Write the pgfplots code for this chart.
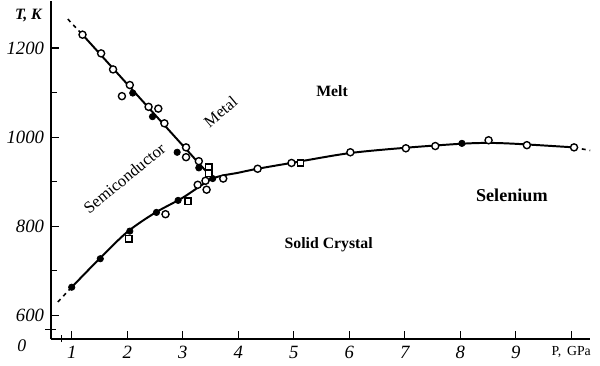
\documentclass[border=0pt]{standalone}
\usepackage{fontspec}
\setmainfont{Liberation Serif}
\usepackage{pgfplots}
\pgfplotsset{compat=1.18}
\begin{document}
\begin{tikzpicture}
\begin{axis}[
  scale only axis, width=273.5pt, height=171.5pt,
  xmin=0.627, xmax=10.34, ymin=546, ymax=1305,
  axis x line*=bottom, axis y line*=left,
  axis line style={black, line width=0.9pt},
  clip=false,
  tick align=inside,
  major tick length=4pt, minor tick length=3pt,
  tick style={black, line width=0.6pt},
  xtick={1,2,3,4,5,6,7,8,9,10},
  xticklabels={\itshape 1,\itshape 2,\itshape 3,\itshape 4,\itshape 5,\itshape 6,\itshape 7,\itshape 8,\itshape 9,{\upshape\fontsize{7}{8}\selectfont P,\, GPa}},
  ytick={600,800,1000,1200},
  minor ytick={700,900,1100},
  yticklabels={\itshape 600,\itshape 800,\itshape 1000,\itshape 1200},
  tick label style={font=\fontsize{9.5}{10}\selectfont},
]
% thicker y axis line
\draw[line width=1.3pt] (axis cs:0.627,1305) -- (axis cs:0.627,570);
% axis break marks at the corner
\draw[line width=0.8pt] (axis cs:0.52,568) -- (axis cs:0.716,568);
\draw[line width=0.8pt] (axis cs:0.82,540) -- (axis cs:0.82,555);
\node[font=\itshape\fontsize{9}{10}\selectfont] at (axis cs:0.10,531) {0};
\node[font=\itshape\bfseries\fontsize{8}{9}\selectfont] at (axis cs:0.22,1274) {T, K};
\path (axis cs:10.34,546) ++(5pt,0pt);

% semiconductor-metal line
\addplot[black, line width=0.8pt, dash pattern=on 2pt off 2pt] coordinates {(0.93,1265)(1.195,1230)};
\addplot[black, line width=1pt] coordinates {(1.195,1230)(3.54,907)};
% melting curve
\addplot[black, line width=0.8pt, dash pattern=on 2pt off 2pt] coordinates {(0.75,630)(1.0,663)};
\addplot[black, line width=1pt, smooth, tension=0.5] coordinates {
(1.0,663)(1.5,727)(2.0,787)(2.5,830)(3.0,864)(3.54,907)(4.0,920)(4.35,929)(5.0,943)(6.0,964)(7.0,976)(8.0,985)(8.5,987)(9.0,985)(10.05,977)};
\addplot[black, line width=0.8pt, dash pattern=on 2pt off 2pt] coordinates {(10.05,977)(10.34,970)};

% open circles
\addplot[only marks, mark=*, mark size=1.8pt, mark options={fill=white, draw=black, line width=0.7pt}] coordinates {
(1.195,1230)(1.53,1188)(1.745,1152)(2.047,1117)(1.905,1092)(2.385,1068)(2.56,1064)(2.67,1031)
(3.06,977)(3.06,955)(3.29,946)(3.73,907)(4.35,929)(4.96,942)(6.02,966)(7.02,975)(7.55,980)
(8.51,993)(9.2,982)(10.05,977)(2.69,827)(3.27,893)(3.43,882)(3.41,902)};
% filled circles
\addplot[only marks, mark=*, mark size=1.6pt, mark options={fill=black, draw=black}] coordinates {
(2.10,1099)(2.456,1046)(2.90,966)(3.29,931)(3.54,907)(1.0,663)(1.515,727)(2.047,789)(2.527,831)(2.917,858)(8.03,986)};
% open squares
\addplot[only marks, mark=square*, mark size=1.6pt, mark options={fill=white, draw=black, line width=0.7pt}] coordinates {
(3.47,933)(3.47,918)(5.12,942)(2.03,772)(3.095,856)};

% labels
\node[font=\bfseries\fontsize{8}{9}\selectfont] at (axis cs:5.69,1104) {Melt};
\node[font=\fontsize{8.2}{9}\selectfont, rotate=40] at (axis cs:3.68,1057) {Metal};
\node[font=\fontsize{8.4}{9}\selectfont, rotate=39.5] at (axis cs:1.95,908) {Semiconductor};
\node[font=\bfseries\fontsize{9.2}{10}\selectfont] at (axis cs:8.93,869) {Selenium};
\node[font=\bfseries\fontsize{8}{9}\selectfont] at (axis cs:5.63,758) {Solid Crystal};
\end{axis}
\end{tikzpicture}
\end{document}
